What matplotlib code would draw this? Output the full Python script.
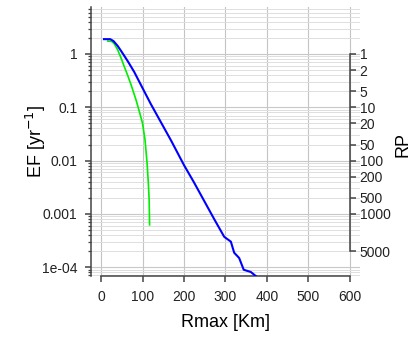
import matplotlib
matplotlib.use("Agg")
import matplotlib.pyplot as plt
import numpy as np

# blue curve (Rmax in Km, exceedance frequency per year)
blue_r = [7, 22, 30, 40, 48, 55, 65, 80, 104, 120, 169, 200, 224, 273, 297, 313, 321, 333, 344, 361, 373]
blue_ef = [1.9, 1.9, 1.75, 1.42, 1.15, 0.95, 0.72, 0.46, 0.2, 0.115, 0.0236, 0.0082, 0.0039,
           0.00079, 0.00037, 0.00030, 0.000186, 0.000148, 0.000089, 0.000081, 0.000068]

# green curve
green_r = [16, 26, 32, 40, 48, 56, 64, 72, 84, 92, 100, 106, 111, 114, 116, 117]
green_ef = [1.75, 1.72, 1.55, 1.2, 0.85, 0.58, 0.4, 0.27, 0.14, 0.085, 0.05, 0.0245,
            0.0089, 0.0038, 0.0018, 0.00062]

ef_ticks = [1e-4, 1e-3, 1e-2, 1e-1, 1]
ef_labels = ["1e-04", "0.001", "0.01", "0.1", "1"]
rp_ticks = [1, 2, 5, 10, 20, 50, 100, 200, 500, 1000, 5000]
x_ticks = [0, 100, 200, 300, 400, 500, 600]

plt.rcParams['font.family'] = ['Liberation Sans', 'DejaVu Sans']
axis_col = '#444444'

fig = plt.figure(figsize=(4.16, 3.37), dpi=100)
ax = fig.add_axes([0.219, 0.181, 0.646, 0.798])
ax.set_yscale('log')
ax.set_xlim(-24, 624)
ax.set_ylim(6.8e-5, 7.6)

# grid
for x in x_ticks:
    ax.axvline(x, color='#c4c4c4', lw=0.8, zorder=0)
for k in range(-5, 1):
    for m in range(1, 10):
        v = m * 10.0 ** k
        ax.axhline(v, color='#c8c8c8' if m == 1 else '#dedede', lw=0.8 if m == 1 else 0.7, zorder=0)

ax.plot(green_r, green_ef, color='#00ee00', lw=1.2, zorder=3)
ax.plot(blue_r, blue_ef, color='#0000ff', lw=1.5, zorder=3)

for s in ['top', 'right']:
    ax.spines[s].set_visible(False)
ax.spines['left'].set_color(axis_col)
ax.spines['bottom'].set_color(axis_col)
ax.spines['left'].set_linewidth(1.1)
ax.spines['bottom'].set_linewidth(1.1)
ax.spines['bottom'].set_bounds(0, 600)

ax.set_xticks(x_ticks)
ax.set_yticks(ef_ticks)
ax.set_yticklabels(ef_labels)
ax.tick_params(axis='both', which='major', direction='out', length=4, width=1.1,
               color=axis_col, labelsize=10, labelcolor='#222222', pad=6)
ax.tick_params(axis='y', which='minor', direction='out', length=2.5, width=0.9, color=axis_col)

ax.set_xlabel('Rmax [Km]', fontsize=13)
ax.set_ylabel('EF [yr$^{-1}$]', fontsize=13)
ax.xaxis.set_label_coords(0.5, -0.14)
ax.yaxis.set_label_coords(-0.16, 0.5)

# return period axis on the right, placed at x = 600
tw = ax.twinx()
tw.set_yscale('log')
tw.set_ylim(ax.get_ylim())
for s in ['top', 'left', 'bottom']:
    tw.spines[s].set_visible(False)
tw.spines['right'].set_position(('data', 600))
tw.spines['right'].set_bounds(1.0 / 5000, 1.0)
tw.spines['right'].set_color(axis_col)
tw.spines['right'].set_linewidth(1.1)
tw.set_yticks([1.0 / r for r in rp_ticks])
tw.set_yticklabels([str(r) for r in rp_ticks])
tw.yaxis.set_minor_locator(matplotlib.ticker.NullLocator())
tw.tick_params(axis='y', direction='out', length=4, width=1.1, color=axis_col,
               labelsize=10, labelcolor='#222222', pad=3)
tw.set_ylabel('RP', fontsize=13)
tw.yaxis.set_label_coords(1.13, 0.49)

fig.savefig('out.png', dpi=100)
